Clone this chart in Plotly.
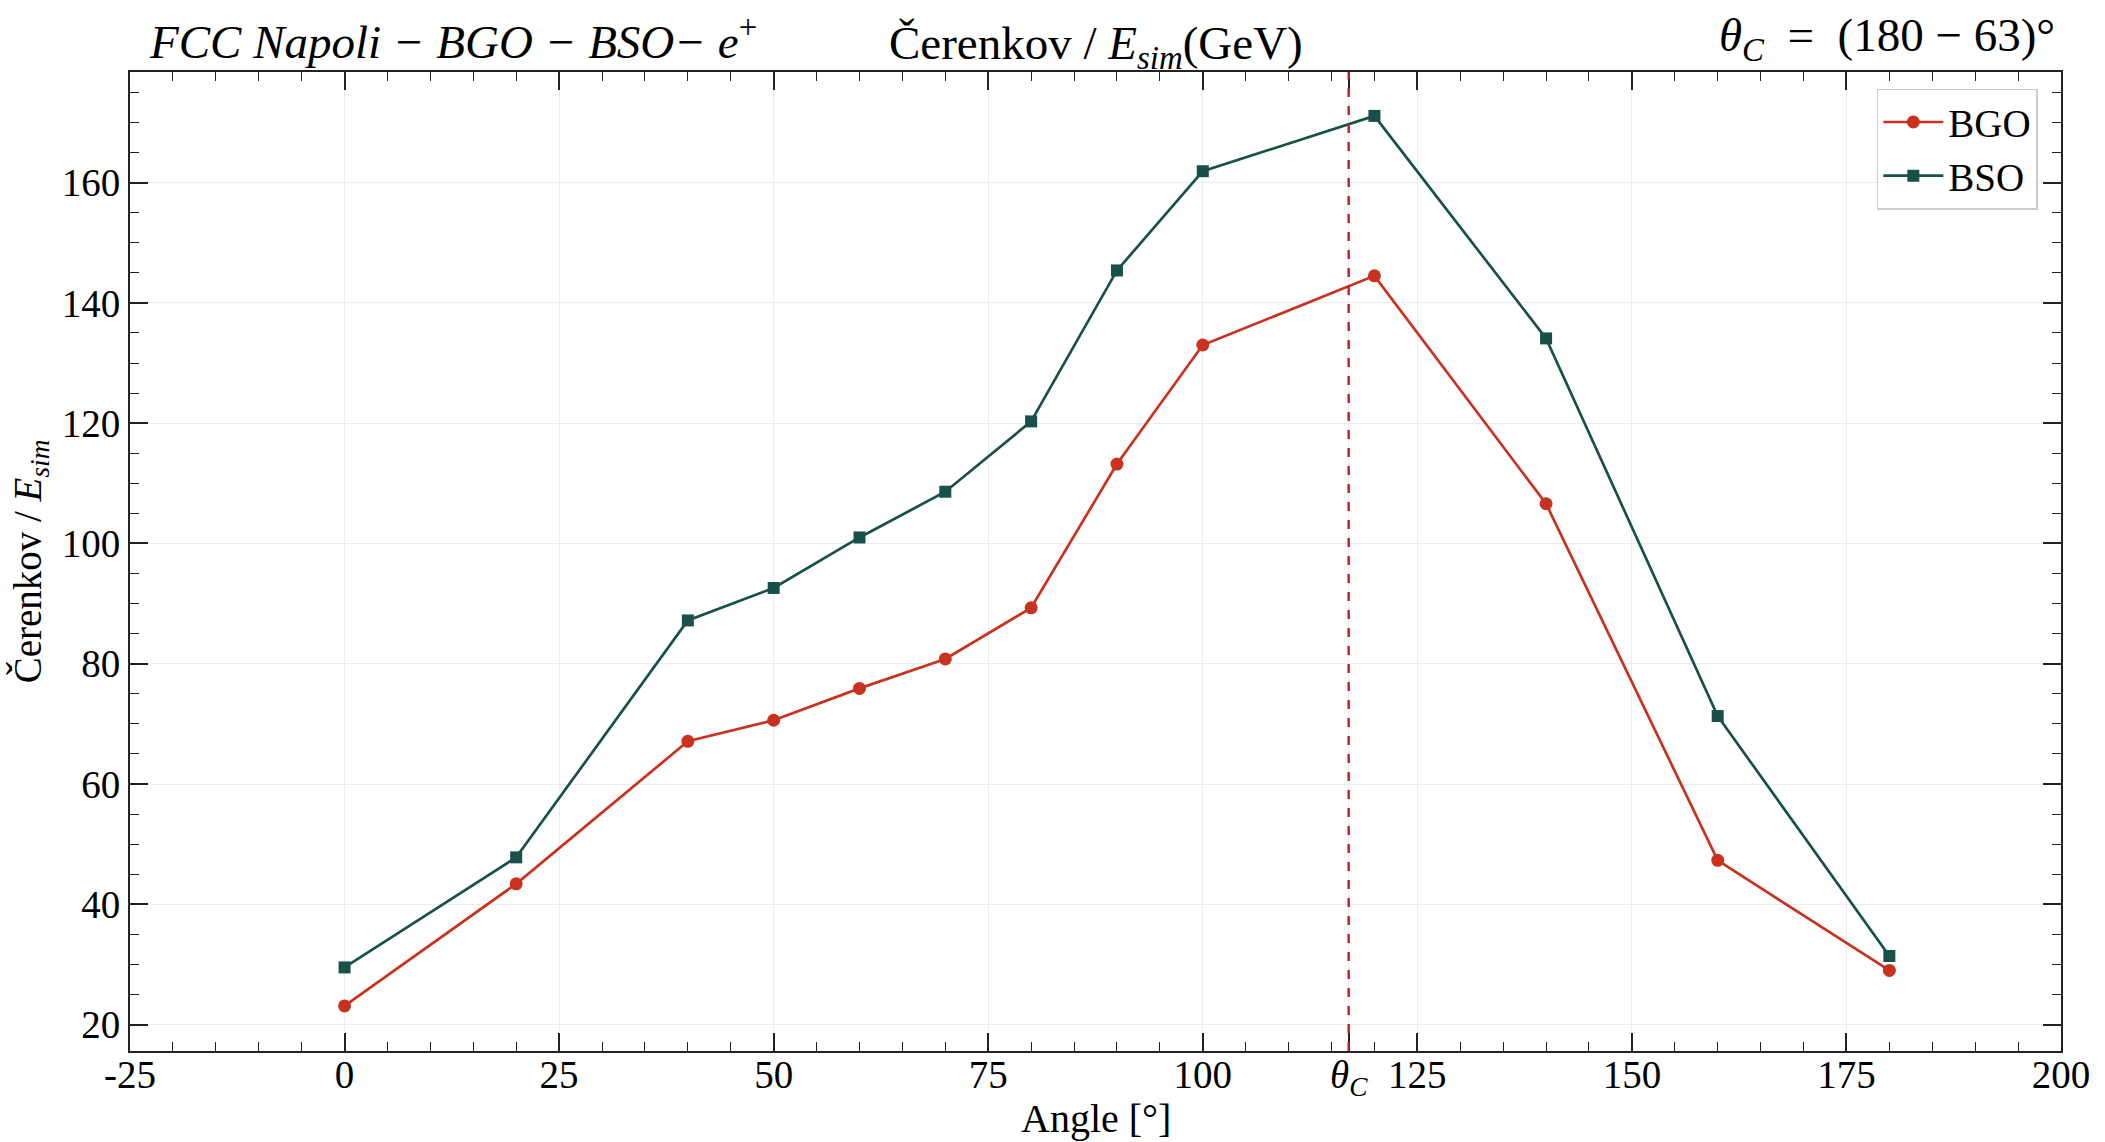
import plotly.graph_objects as go

# ---------------- data ----------------
angles = [0, 20, 40, 50, 60, 70, 80, 90, 100, 120, 140, 160, 180]
bgo = [23.1, 43.4, 67.1, 70.6, 75.9, 80.8, 89.3, 113.2, 133.0, 144.5, 106.6, 47.3, 29.0]
bso = [29.5, 47.8, 87.2, 92.6, 101.0, 108.6, 120.3, 145.4, 161.9, 171.1, 134.1, 71.3, 31.4]
series_names = ["BGO", "BSO"]
theta_c = 180 - 63
x_tick_values = [-25, 0, 25, 50, 75, 100, 125, 150, 175, 200]
x_tick_labels = ["-25", "0", "25", "50", "75", "100", "125", "150", "175", "200"]
theta_label = "<i>θ</i><sub><i>C</i></sub>"

RED = "#c8321f"
GREEN = "#18514a"
FONT = "Liberation Serif"

# merge theta_C tick into major ticks
ticks = sorted(zip(x_tick_values + [theta_c], x_tick_labels + [theta_label]))
tickvals = [t[0] for t in ticks]
ticktext = [t[1] for t in ticks]

fig = go.Figure()
fig.add_trace(go.Scatter(
    x=angles, y=bgo, name=series_names[0], mode="lines+markers",
    line=dict(color=RED, width=2.7),
    marker=dict(symbol="circle", size=13, color=RED),
))
fig.add_trace(go.Scatter(
    x=angles, y=bso, name=series_names[1], mode="lines+markers",
    line=dict(color=GREEN, width=2.7),
    marker=dict(symbol="square", size=12, color=GREEN),
))

fig.add_vline(x=theta_c, line=dict(color="#b8202a", width=2.4, dash="dash"))

axis_common = dict(
    showline=True, linecolor="#222", linewidth=2, mirror="allticks",
    ticks="inside", ticklen=18, tickwidth=1.6, tickcolor="#222",
    showgrid=True, gridcolor="#ececec", gridwidth=1.2,
    zeroline=False, automargin=False,
    tickfont=dict(family=FONT, size=39, color="black"),
)

fig.update_xaxes(
    **axis_common,
    range=[-25, 200],
    tickmode="array", tickvals=tickvals, ticktext=ticktext,
    ticklabelstandoff=-12,
    minor=dict(dtick=5, tick0=0, ticklen=9, ticks="inside", tickwidth=1.4,
               tickcolor="#222", showgrid=False),
)
fig.update_yaxes(
    **axis_common,
    range=[15.6, 178.4],
    tick0=0, dtick=20,
    minor=dict(dtick=5, tick0=0, ticklen=9, ticks="inside", tickwidth=1.4,
               tickcolor="#222", showgrid=False),
    title=dict(text="Čerenkov / <i>E</i><sub><i>sim</i></sub>",
               font=dict(family=FONT, size=39, color="black"), standoff=8),
)

# x-axis title
fig.add_annotation(
    text="Angle [°]",
    xref="paper", yref="paper", x=0.5, y=-0.069, xanchor="center", yanchor="middle",
    showarrow=False, font=dict(family=FONT, size=40, color="black"),
)
fig.add_annotation(
    text="<i>FCC Napoli − BGO − BSO− e</i><sup>+</sup>",
    xref="paper", yref="paper", x=0.009, y=1.034, xanchor="left", yanchor="middle",
    showarrow=False, font=dict(family=FONT, size=47, color="black"),
)
fig.add_annotation(
    text="Čerenkov / <i>E</i><sub><i>sim</i></sub>(GeV)",
    xref="paper", yref="paper", x=0.5, y=1.026, xanchor="center", yanchor="middle",
    showarrow=False, font=dict(family=FONT, size=47, color="black"),
)
fig.add_annotation(
    text="<i>θ</i><sub><i>C</i></sub>  =  (180 − 63)°",
    xref="paper", yref="paper", x=0.998, y=1.034, xanchor="right", yanchor="middle",
    showarrow=False, font=dict(family=FONT, size=47, color="black"),
)

fig.update_layout(
    width=2105, height=1142,
    margin=dict(l=130, r=44, t=72, b=91),
    paper_bgcolor="white", plot_bgcolor="white",
    showlegend=True,
    legend=dict(
        x=0.988, y=0.983, xanchor="right", yanchor="top",
        bgcolor="rgba(255,255,255,0.9)", bordercolor="#cccccc", borderwidth=1.5,
        font=dict(family=FONT, size=39, color="black"),
        itemwidth=60, tracegroupgap=6,
    ),
)

# remove the default 8px page margin so the figure fills the window exactly
fig.write_html("out.html", config={"displayModeBar": False},
               post_script="document.body.style.margin='0';")
